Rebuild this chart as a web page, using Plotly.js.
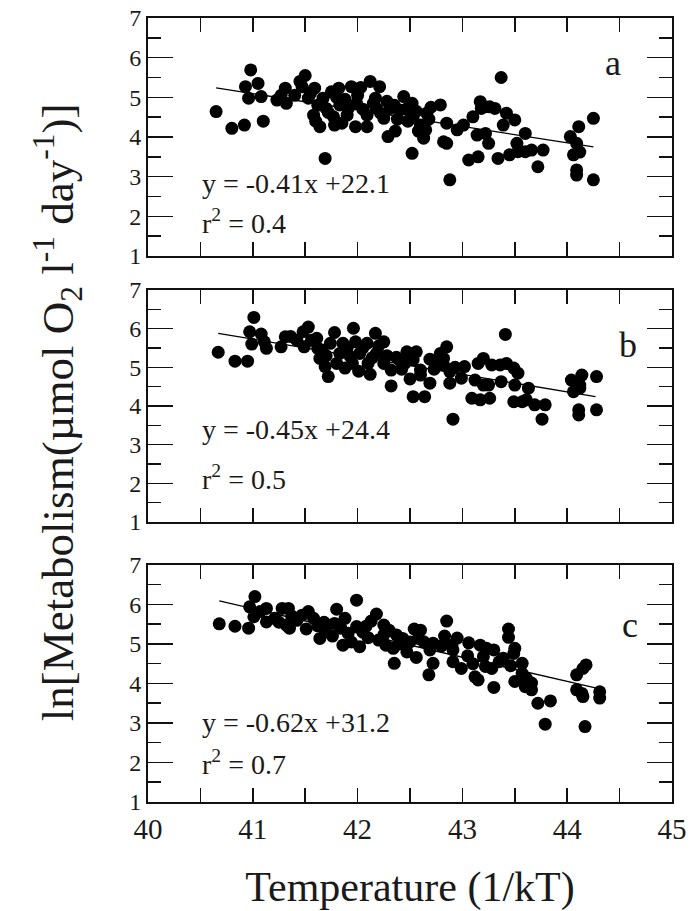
<!DOCTYPE html>
<html>
<head>
<meta charset="utf-8">
<script src="https://cdn.plot.ly/plotly-3.0.1.min.js"></script>
<style>html,body{margin:0;padding:0;background:#fff;}#chart{width:695px;height:911px;}</style>
</head>
<body>
<div id="chart"></div>
<script>
// Panel a data
const aX = [40.65,40.80,40.92,41.10,40.98,40.93,41.05,40.96,41.08,41.23,41.31,41.32,41.27,41.50,41.47,41.53,41.59,41.58,41.64,41.67,41.70,41.75,41.82,41.77,41.78,41.85,41.83,41.91,41.94,41.99,41.98,42.09,42.09,42.12,42.21,42.17,42.18,42.25,42.31,42.29,42.44,42.40,42.52,42.53,42.52,42.60,42.63,42.66,42.79,42.82,41.69,41.55,41.62,41.72,41.80,41.88,41.90,42.00,42.05,42.03,42.15,42.22,42.28,42.35,42.38,42.46,42.48,42.56,42.58,42.70,42.68,41.45,41.40,41.60,42.36,42.85,42.85,42.88,42.95,43.01,43.06,43.15,43.10,43.14,43.17,43.18,43.22,43.25,43.31,43.37,43.34,43.42,43.39,43.45,43.50,43.52,43.53,43.60,43.60,43.66,43.72,43.77,44.03,44.06,44.11,44.09,44.09,44.09,44.25,44.25,43.21,44.12,42.65,43.26];
const aY = [4.64,4.22,4.30,4.40,5.69,5.27,5.35,4.98,5.02,4.93,5.23,4.85,5.05,5.55,5.27,4.98,5.23,4.55,4.26,4.98,4.72,5.14,5.23,4.51,4.30,4.35,4.81,4.72,5.27,4.85,4.26,4.26,4.55,5.40,5.27,4.98,4.72,4.47,4.72,4.01,5.02,4.68,4.85,4.51,3.59,4.30,3.97,4.60,4.81,3.88,3.46,5.10,4.80,4.62,5.00,4.95,4.55,5.05,4.70,5.25,4.85,4.60,4.90,4.80,4.45,4.70,4.40,4.65,4.15,4.75,4.45,5.40,5.05,4.40,4.15,4.35,3.84,2.92,4.18,4.30,3.42,3.50,4.51,4.05,4.89,4.72,4.09,3.84,4.72,5.50,3.46,4.60,4.30,3.55,4.43,3.84,3.63,4.09,3.63,3.67,3.25,3.67,4.01,3.55,4.26,3.84,3.17,3.04,4.47,2.92,4.76,3.62,4.18,4.76];
const aLineX = [40.65, 44.25];
const aLineY = [5.24, 3.75];

// Panel b data
const bX = [40.67,40.83,40.95,41.01,40.97,41.08,40.99,41.13,41.11,41.27,41.31,41.36,41.48,41.53,41.49,41.61,41.62,41.64,41.69,41.72,41.74,41.78,41.83,41.86,41.88,41.80,41.96,41.98,41.93,42.01,42.02,42.09,42.10,42.12,42.17,42.25,42.18,42.25,42.32,42.32,42.37,42.47,42.53,42.56,42.60,42.53,42.64,42.69,42.69,42.79,42.82,42.85,42.40,42.60,42.82,42.88,42.88,42.91,42.99,43.02,43.09,43.17,43.26,43.12,43.15,43.20,43.20,43.25,43.28,43.36,43.37,43.41,43.42,43.49,43.53,43.50,43.49,43.57,43.63,43.61,43.69,43.76,43.79,44.04,44.06,44.14,44.12,44.12,44.11,44.11,44.28,44.28,41.56,41.66,41.70,41.90,41.95,42.05,42.14,42.20,42.28,42.42,42.45,42.50,42.73,42.76,41.42,42.93];
const bY = [5.39,5.16,5.16,6.29,5.92,5.86,5.60,5.49,5.66,5.53,5.79,5.80,5.92,6.04,5.53,5.75,5.49,5.23,5.02,4.76,5.62,5.90,5.36,5.62,4.98,5.10,6.01,5.66,5.28,4.90,5.36,5.62,5.10,4.82,5.88,5.66,5.36,5.10,4.93,4.52,5.26,5.40,5.19,5.40,4.93,4.24,4.24,5.21,4.59,5.36,5.06,5.53,5.19,4.80,5.23,4.89,4.59,3.66,4.72,5.02,4.20,4.16,4.20,4.67,5.10,5.23,4.54,4.54,5.06,5.06,4.63,5.85,5.10,4.98,4.85,4.54,4.11,4.11,4.46,4.16,4.03,3.66,4.03,4.67,4.37,4.80,4.54,4.46,3.90,3.77,4.76,3.90,5.70,5.45,5.30,5.50,5.10,5.50,5.25,5.55,5.30,4.95,5.10,4.70,4.95,5.15,5.70,5.00];
const bLineX = [40.67, 44.27];
const bLineY = [5.88, 4.24];

// Panel c data
const cX = [40.68,40.83,40.96,41.02,40.97,41.01,41.07,41.13,41.13,41.21,41.28,41.34,41.32,41.37,41.35,41.47,41.53,41.51,41.58,41.62,41.64,41.70,41.80,41.78,41.76,41.86,41.88,41.91,41.99,41.99,42.02,42.10,42.13,42.18,42.25,42.25,42.27,42.34,42.35,42.37,42.43,42.47,42.54,42.58,42.56,42.60,42.63,42.69,42.72,42.72,42.68,42.85,42.83,42.90,42.91,42.91,42.99,43.06,43.12,43.15,43.17,43.20,43.23,43.22,43.28,43.30,43.30,43.39,43.44,43.44,43.49,43.50,43.50,43.57,43.57,43.61,43.66,43.66,43.60,43.72,43.84,43.79,44.09,44.15,44.18,44.09,44.14,44.15,44.17,44.31,44.31,41.25,41.42,41.68,41.84,41.94,42.05,42.08,42.20,42.30,42.40,42.50,42.80,42.95,43.05,43.10,43.35,43.46];
const cY = [5.51,5.45,5.40,6.20,5.94,5.69,5.82,5.90,5.56,5.65,5.90,5.90,5.48,5.71,5.40,5.73,5.82,5.38,5.65,5.46,5.14,5.31,5.88,5.52,5.20,4.97,5.65,5.27,6.11,5.44,4.93,5.16,5.58,5.76,5.48,5.23,4.97,4.89,4.51,5.23,5.14,4.80,5.38,5.14,4.66,5.35,5.06,4.85,5.02,4.51,4.22,5.58,5.20,4.97,4.85,4.55,4.38,5.03,4.17,4.09,4.97,4.68,4.89,4.43,4.38,4.85,3.90,4.64,5.38,5.17,4.76,4.89,4.05,4.51,4.26,4.13,4.01,3.84,3.92,3.50,3.56,2.97,4.22,4.38,4.47,3.84,3.75,3.67,2.91,3.79,3.63,5.55,5.60,5.55,5.40,5.05,5.30,5.45,5.10,5.35,5.00,5.05,4.95,5.15,4.70,4.50,4.55,4.45];
const cLineX = [40.68, 44.28];
const cLineY = [6.09, 3.88];

const panelLabels = ['a', 'b', 'c'];
const equations = ['y = -0.41x +22.1', 'y = -0.45x +24.4', 'y = -0.62x +31.2'];
const rsq = ['r<sup>2</sup> = 0.4', 'r<sup>2</sup> = 0.5', 'r<sup>2</sup> = 0.7'];
const yTitle = 'ln[Metabolism(µmol O<sub>2</sub> l<sup>-1</sup> day<sup>-1</sup>)]';
const xTitle = 'Temperature (1/kT)';

const serif = 'Liberation Serif, serif';
const ink = '#1a1a1a';

function pts(x, y, n) {
  return {x: x, y: y, type: 'scatter', mode: 'markers', xaxis: 'x' + n, yaxis: 'y' + n,
    marker: {size: 13, color: '#000', line: {width: 0}}, showlegend: false, hoverinfo: 'skip'};
}
function fit(x, y, n) {
  return {x: x, y: y, type: 'scatter', mode: 'lines', xaxis: 'x' + n, yaxis: 'y' + n,
    line: {color: '#000', width: 1.3}, showlegend: false, hoverinfo: 'skip'};
}
const data = [
  pts(aX, aY, ''), fit(aLineX, aLineY, ''),
  pts(bX, bY, '2'), fit(bLineX, bLineY, '2'),
  pts(cX, cY, '3'), fit(cLineX, cLineY, '3')
];

function xa(anchor, labels) {
  return {anchor: anchor, domain: [0, 1], range: [40, 45], tickmode: 'linear', tick0: 40, dtick: 1,
    ticks: 'inside', ticklen: 14, tickwidth: 1.5, tickcolor: '#111',
    minor: {dtick: 0.5, tick0: 40, ticks: 'inside', ticklen: 14, tickwidth: 1.5, tickcolor: '#111', showgrid: false},
    showline: true, linewidth: 2, linecolor: '#111', mirror: 'ticks', showgrid: false, zeroline: false,
    showticklabels: labels, tickfont: {family: serif, size: 29, color: ink}};
}
function ya(anchor, dom) {
  return {anchor: anchor, domain: dom, range: [1, 7], tickmode: 'linear', tick0: 1, dtick: 1,
    ticks: 'inside', ticklen: 25, tickwidth: 1.5, tickcolor: '#111',
    minor: {dtick: 0.5, tick0: 1, ticks: 'inside', ticklen: 13, tickwidth: 1.5, tickcolor: '#111', showgrid: false},
    showline: true, linewidth: 2, linecolor: '#111', mirror: 'ticks', showgrid: false, zeroline: false,
    tickfont: {family: serif, size: 24, color: ink}};
}

const layout = {
  width: 695, height: 911,
  margin: {l: 148, r: 23, t: 18, b: 109},
  paper_bgcolor: '#fff', plot_bgcolor: '#fff',
  showlegend: false,
  xaxis: xa('y', false),
  xaxis2: xa('y2', false),
  xaxis3: Object.assign(xa('y3', true), {title: {text: xTitle, font: {family: serif, size: 42, color: ink}, standoff: 36}}),
  yaxis: ya('x', [0.6964, 1]),
  yaxis2: ya('x2', [0.3571, 0.6531]),
  yaxis3: ya('x3', [0, 0.3023]),
  annotations: [
    {xref: 'paper', yref: 'paper', x: -0.1737, y: 0.497, xanchor: 'center', yanchor: 'middle', textangle: -90, text: yTitle, showarrow: false, font: {family: serif, size: 45, color: ink}},
    {xref: 'x', yref: 'y', x: 44.44, y: 5.87, text: panelLabels[0], showarrow: false, font: {family: serif, size: 36, color: ink}},
    {xref: 'x2', yref: 'y2', x: 44.58, y: 5.58, text: panelLabels[1], showarrow: false, font: {family: serif, size: 36, color: ink}},
    {xref: 'x3', yref: 'y3', x: 44.60, y: 5.48, text: panelLabels[2], showarrow: false, font: {family: serif, size: 36, color: ink}},
    {xref: 'x', yref: 'y', x: 40.5, y: 2.84, xanchor: 'left', text: equations[0], showarrow: false, font: {family: serif, size: 28, color: ink}},
    {xref: 'x', yref: 'y', x: 40.5, y: 1.86, xanchor: 'left', text: rsq[0], showarrow: false, font: {family: serif, size: 28, color: ink}},
    {xref: 'x2', yref: 'y2', x: 40.5, y: 3.38, xanchor: 'left', text: equations[1], showarrow: false, font: {family: serif, size: 28, color: ink}},
    {xref: 'x2', yref: 'y2', x: 40.5, y: 2.16, xanchor: 'left', text: rsq[1], showarrow: false, font: {family: serif, size: 28, color: ink}},
    {xref: 'x3', yref: 'y3', x: 40.5, y: 3.0, xanchor: 'left', text: equations[2], showarrow: false, font: {family: serif, size: 28, color: ink}},
    {xref: 'x3', yref: 'y3', x: 40.5, y: 2.01, xanchor: 'left', text: rsq[2], showarrow: false, font: {family: serif, size: 28, color: ink}}
  ]
};

Plotly.newPlot('chart', data, layout, {displayModeBar: false, staticPlot: true});
</script>
</body>
</html>
